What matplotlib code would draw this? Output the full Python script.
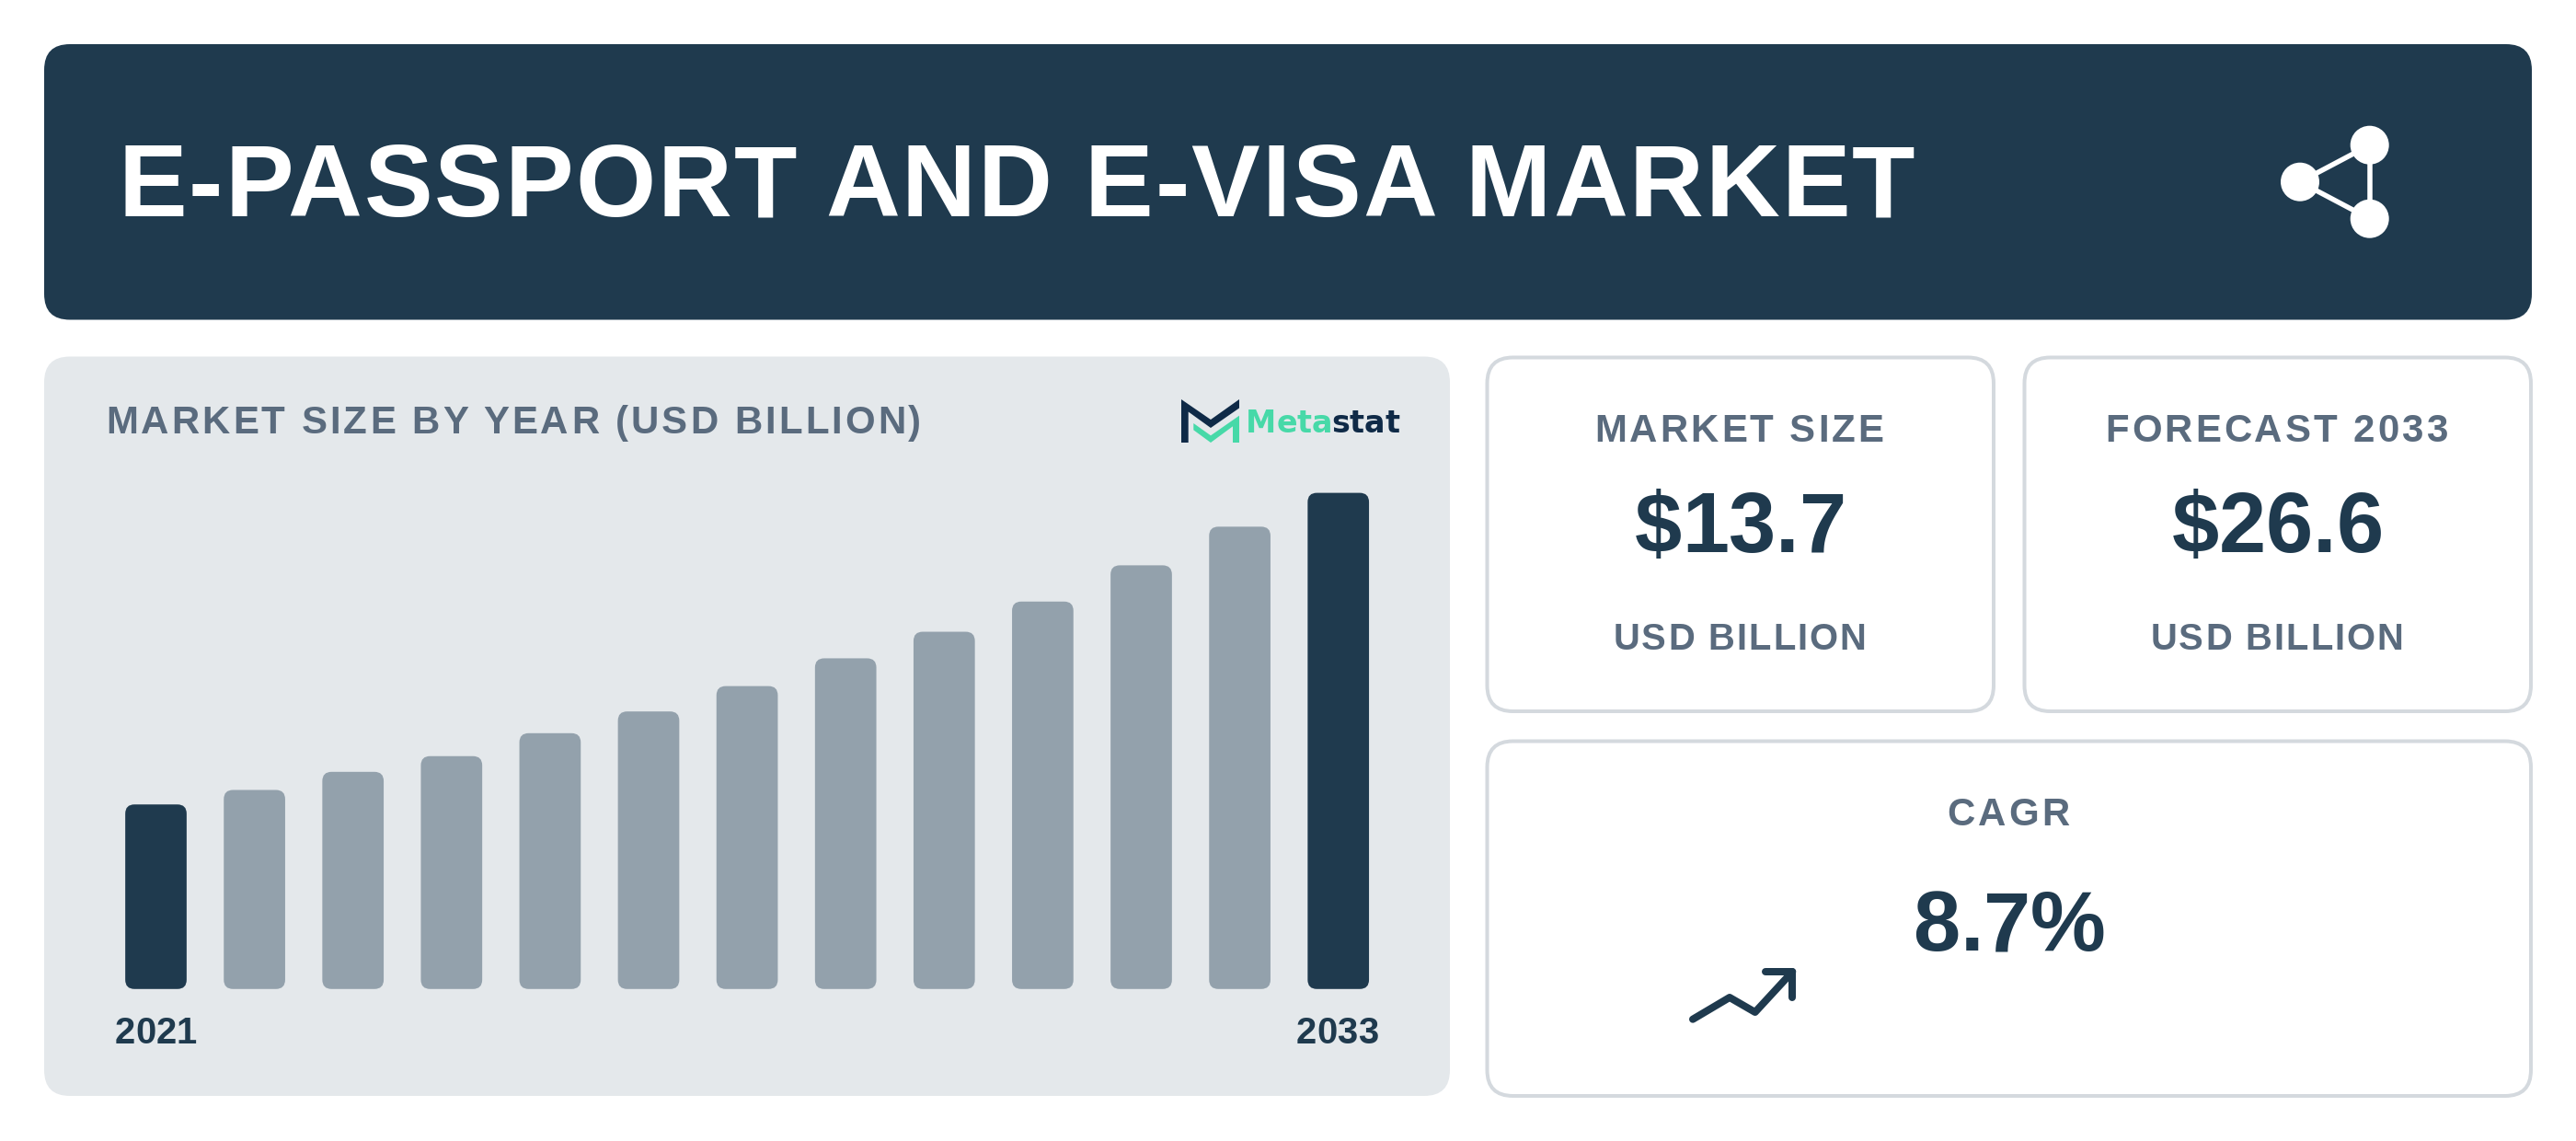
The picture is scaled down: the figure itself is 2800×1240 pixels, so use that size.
import matplotlib
matplotlib.use("Agg")
import matplotlib.pyplot as plt
from matplotlib.patches import FancyBboxPatch, Circle, Polygon
from matplotlib.text import Text
from matplotlib.transforms import Bbox

TITLE = "E-PASSPORT AND E-VISA MARKET"
CHART_TITLE = "MARKET SIZE BY YEAR (USD BILLION)"
years = [2021, 2022, 2023, 2024, 2025, 2026, 2027, 2028, 2029, 2030, 2031, 2032, 2033]
values = [13.7, 14.3, 15.05, 15.7, 16.65, 17.55, 18.6, 19.75, 20.85, 22.1, 23.6, 25.2, 26.6]
year_labels = ["2021", "2033"]
cards = [("MARKET SIZE", "$13.7", "USD BILLION"), ("FORECAST 2033", "$26.6", "USD BILLION")]
cagr_label, cagr_value = "CAGR", "8.7%"

DARK = "#1F3A4E"
PANEL = "#E4E8EB"
BAR = "#93A1AC"
GREY = "#5A6B7E"
BORDER = "#D4D9DE"
GREEN = "#47D9A8"
NAVY = "#0F2A47"
FONT = "Liberation Sans"

plt.rcParams["font.family"] = [FONT, "DejaVu Sans"]


class SpacedText(Text):
    """One text whose glyphs are drawn with extra letter spacing (pixels)."""

    def __init__(self, x, y, s, spacing=0.0, align="left", **kw):
        super().__init__(x, y, s, ha="left", va="baseline", **kw)
        self.spacing, self.align, self.anchor_x = spacing, align, x

    def _w(self, renderer, s):
        if not s:
            return 0.0
        return renderer.get_text_width_height_descent(s, self.get_fontproperties(), False)[0]

    def _start(self, renderer):
        s = self.get_text()
        w = self._w(renderer, s) + self.spacing * (len(s) - 1)
        f = {"left": 0, "center": 0.5, "right": 1}[self.align]
        return self.anchor_x - f * w, w

    def get_window_extent(self, renderer=None, dpi=None):
        renderer = renderer or self.get_figure().canvas.get_renderer()
        box = super().get_window_extent(renderer, dpi)
        x0, w = self._start(renderer)
        return Bbox.from_extents(x0, box.y0, x0 + w, box.y1)

    def draw(self, renderer):
        s = self.get_text()
        x0, _ = self._start(renderer)
        for i, c in enumerate(s):
            adv = self._w(renderer, s[:i + 1]) - self._w(renderer, c)
            self.set_text(c)
            self.set_x(x0 + adv + i * self.spacing)
            super().draw(renderer)
        self.set_text(s)
        self.set_x(self.anchor_x)


W, H = 2800, 1240
fig = plt.figure(figsize=(W / 100, H / 100), dpi=100, facecolor="white")
ax = fig.add_axes([0, 0, 1, 1])
ax.set_xlim(0, W)
ax.set_ylim(H, 0)
ax.axis("off")


def box(x0, y0, x1, y1, r, fc, ec="none", lw=0, z=1):
    ax.add_patch(FancyBboxPatch((x0, y0), x1 - x0, y1 - y0, boxstyle=f"round,pad=0,rounding_size={r}",
                                fc=fc, ec=ec, lw=lw, zorder=z))


def label(x, y, s, px, color, spacing=0.0, align="left", weight="bold", family=FONT):
    t = SpacedText(x, y, s, spacing=spacing, align=align, fontsize=px * 0.72, color=color,
                   fontweight=weight, family=[family, "DejaVu Sans"], zorder=5)
    ax.add_artist(t)
    return t


# header
box(48, 48, 2752, 347.5, 28, DARK)
label(128, 235, TITLE, 112, "white", spacing=1.95)
L, U, D = (2500, 197.7), (2575.7, 157.7), (2575.7, 237.7)
for (a, b) in [(L, U), (L, D), (U, D)]:
    ax.plot([a[0], b[0]], [a[1], b[1]], color="white", lw=5.5 * 0.72, zorder=3, solid_capstyle="butt")
for c in (L, U, D):
    ax.add_patch(Circle(c, 21, fc="white", ec="none", zorder=4))

# chart panel
box(48, 387.5, 1576, 1191, 28, PANEL)
label(115, 471, CHART_TITLE, 42, GREY, spacing=3.05)

BASE = 6.06
BOTTOM_PX = 1074.8
bx = fig.add_axes([0, 0, 1, 1], facecolor="none")
bx.axis("off")
bx.set_xlim((0 - 169.5) / 107.1, (W - 169.5) / 107.1)
units_per_px_y = 1 / 26.25
bx.set_ylim(BASE - (H - BOTTOM_PX) * units_per_px_y, BASE + BOTTOM_PX * units_per_px_y)
bar_w = 66.7 / 107.1
r_px = 10
rects = bx.bar(range(len(years)), [v - BASE for v in values], bottom=BASE, width=bar_w)
for i, rect in enumerate(rects):
    rect.set_visible(False)
    fc = DARK if i in (0, len(values) - 1) else BAR
    bx.add_patch(FancyBboxPatch((rect.get_x(), rect.get_y()), rect.get_width(), rect.get_height(),
                                boxstyle=f"round,pad=0,rounding_size={r_px / 107.1}",
                                mutation_aspect=units_per_px_y * 107.1, fc=fc, ec="none", zorder=3))

label(169.5, 1133.5, year_labels[0], 40, DARK, align="center")
label(1453.5, 1133.5, year_labels[1], 40, DARK, align="center")

# logo
ax.add_patch(Polygon([(1284, 434), (1316, 456), (1347, 434), (1347, 443.5), (1316, 465), (1291.7, 447.5),
                      (1291.7, 481), (1284, 481)], closed=True, fc=NAVY, ec="none", zorder=4))
ax.add_patch(Polygon([(1297.3, 460), (1316, 473.3), (1347, 451.7), (1347, 481), (1340, 481), (1340, 463.3),
                      (1316, 481), (1297.3, 467.3)], closed=True, fc=GREEN, ec="none", zorder=4))
label(1354, 469.5, "Meta", 33.4, GREEN, family="DejaVu Sans")
label(1447, 469.5, "stat", 33.4, NAVY, family="DejaVu Sans")

# cards
for (x0, x1), (head, val, unit) in zip([(1616.5, 2167), (2200.5, 2751)], cards):
    box(x0, 388.5, x1, 773, 28, "white", BORDER, 4 * 0.72)
    cx = (x0 + x1) / 2
    label(cx - 1.5, 480, head, 42, GREY, spacing=2.95, align="center")
    label(cx, 600, val, 92, DARK, align="center")
    label(cx - 1, 706, unit, 40, GREY, spacing=2.0, align="center")

box(1616.5, 805.5, 2751, 1191, 28, "white", BORDER, 4 * 0.72)
label(2183, 897, cagr_label, 42, GREY, spacing=3.0, align="center")
label(2184, 1033, cagr_value, 92, DARK, align="center")
ax.plot([1840, 1880, 1907.7, 1948.3], [1107.7, 1084, 1100, 1056], color=DARK, lw=8 * 0.72,
        solid_capstyle="round", solid_joinstyle="round", zorder=3)
ax.plot([1919.3, 1948.3, 1948.3], [1056, 1056, 1084], color=DARK, lw=8 * 0.72,
        solid_capstyle="round", solid_joinstyle="round", zorder=3)

fig.savefig("out.png", dpi=100, facecolor="white")
